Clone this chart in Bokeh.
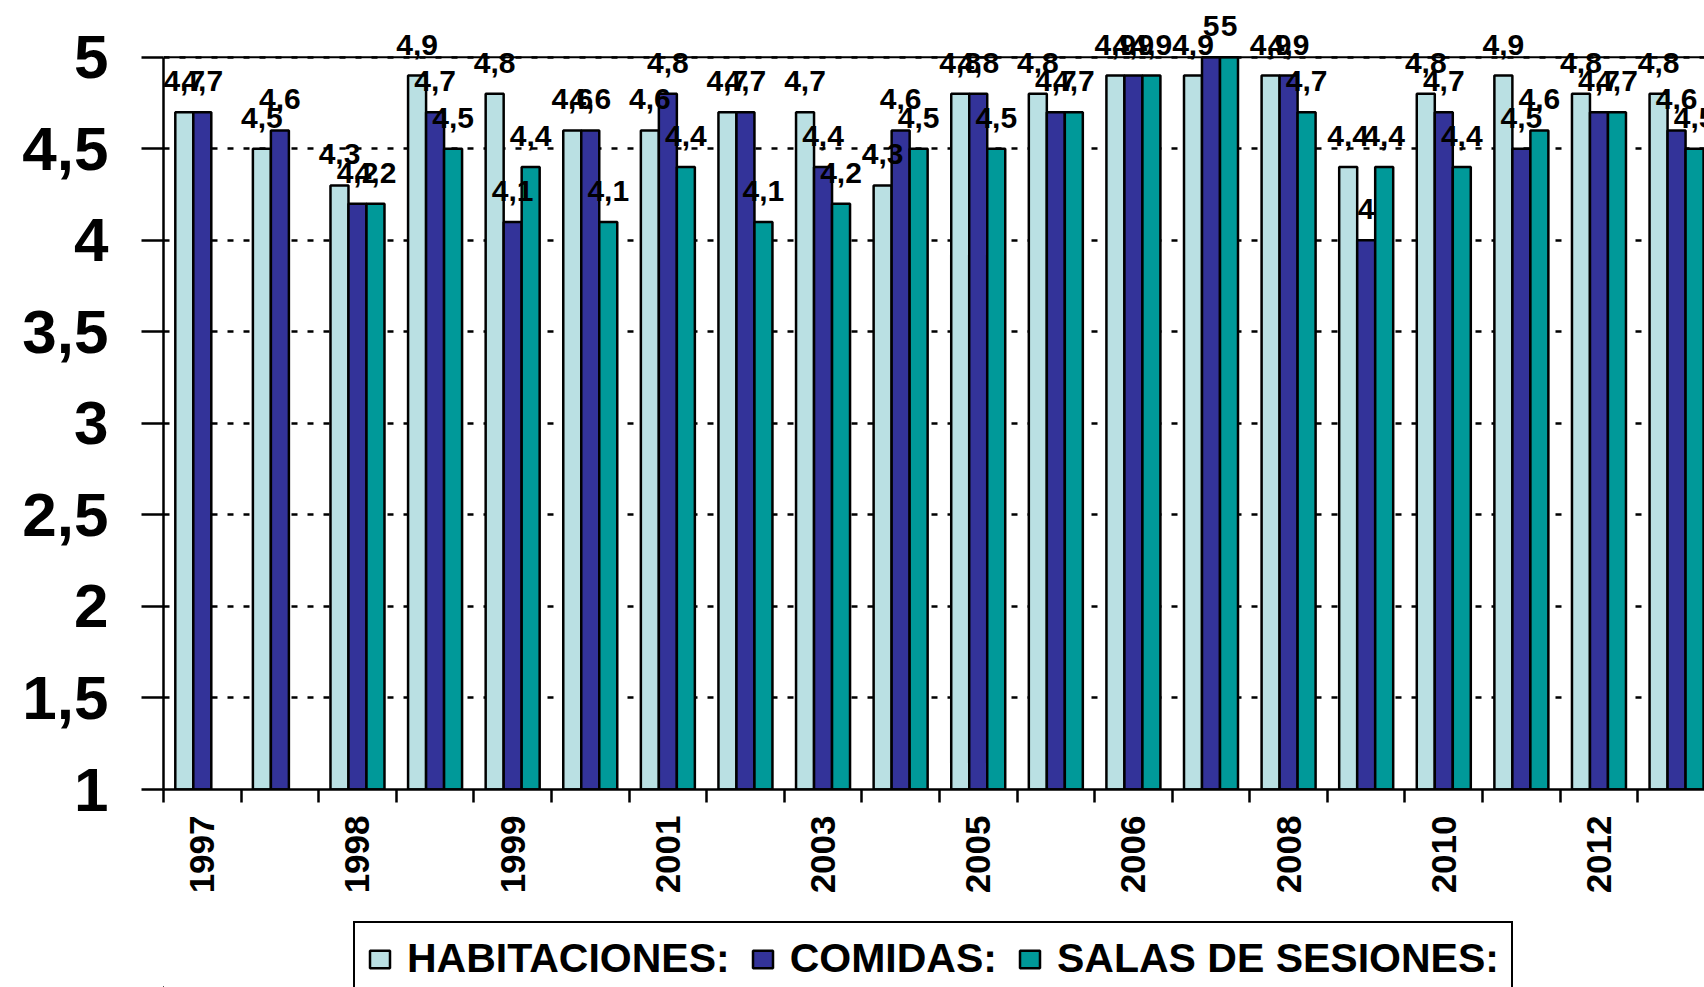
import math
from bokeh.plotting import figure
from bokeh.layouts import column
from bokeh.models import (ColumnDataSource, Range1d, FixedTicker, LabelSet, Legend,
                          LegendItem, Span, CustomJSTickFormatter)
from bokeh.core.properties import value
from bokeh.embed import file_html
from bokeh.resources import INLINE

# ---- data ----
year_labels = ["1997", "", "1998", "", "1999", "", "2001", "", "2003", "",
               "2005", "", "2006", "", "2008", "", "2010", "", "2012", ""]
habitaciones = [4.7, 4.5, 4.3, 4.9, 4.8, 4.6, 4.6, 4.7, 4.7, 4.3,
                4.8, 4.8, 4.9, 4.9, 4.9, 4.4, 4.8, 4.9, 4.8, 4.8]
comidas = [4.7, 4.6, 4.2, 4.7, 4.1, 4.6, 4.8, 4.7, 4.4, 4.6,
           4.8, 4.7, 4.9, 5.0, 4.9, 4.0, 4.7, 4.5, 4.7, 4.6]
salas = [None, None, 4.2, 4.5, 4.4, 4.1, 4.4, 4.1, 4.2, 4.5,
         4.5, 4.7, 4.9, 5.0, 4.7, 4.4, 4.4, 4.6, 4.7, 4.5]
series_names = ["HABITACIONES:", "COMIDAS:", "SALAS DE SESIONES:"]
series_values = [habitaciones, comidas, salas]
colors = ["#BAE0E3", "#333399", "#009999"]
y_ticks = [1, 1.5, 2, 2.5, 3, 3.5, 4, 4.5, 5]

FONT = "Liberation Sans"
n = len(year_labels)
bar_w = 0.232
offsets = [-bar_w, 0.0, bar_w]


def fmt(v):
    return ("%g" % v).replace(".", ",")


p = figure(width=1704, height=900,
           x_range=Range1d(-0.5, 19.36), y_range=Range1d(1, 5.31),
           output_backend="svg", toolbar_location=None,
           min_border_left=163, min_border_right=0,
           min_border_top=0, min_border_bottom=111)
p.outline_line_color = None
p.background_fill_color = "white"
p.border_fill_color = "white"

# grid
p.xgrid.visible = False
p.ygrid.ticker = FixedTicker(ticks=y_ticks[1:])
p.ygrid.grid_line_color = "black"
p.ygrid.grid_line_dash = "6 10"
p.ygrid.grid_line_width = 2.7

p.add_layout(Span(location=5, dimension="width", line_color="black", line_width=2))

renderers = []
for name, vals, off, col in zip(series_names, series_values, offsets, colors):
    xs = [i + off for i, v in enumerate(vals) if v is not None]
    ys = [v for v in vals if v is not None]
    src = ColumnDataSource(dict(x=xs, top=ys, txt=[fmt(v) for v in ys]))
    r = p.vbar(x="x", top="top", bottom=1, width=bar_w, source=src,
               fill_color=col, line_color="black", line_width=2.5)
    renderers.append((name, r, src))

for name, r, src in renderers:
    p.add_layout(LabelSet(x="x", y="top", text="txt", source=src,
                          text_align="center", text_baseline="alphabetic",
                          y_offset=21, text_font=value(FONT),
                          text_font_style="bold",
                          text_font_size="30px", text_color="black"))

# y axis
ya = p.yaxis[0]
ya.ticker = FixedTicker(ticks=y_ticks)
ya.formatter = CustomJSTickFormatter(code="return String(tick).replace('.', ',');")
ya.bounds = (1, 5)
ya.major_tick_out = 22
ya.major_tick_in = 0
ya.minor_tick_out = 0
ya.minor_tick_in = 0
ya.axis_line_width = 2.5
ya.major_tick_line_width = 2.5
ya.major_label_standoff = 33
ya.major_label_text_font = FONT
ya.major_label_text_font_style = "bold"
ya.major_label_text_font_size = "62px"
ya.major_label_text_color = "black"

# x axis
xa = p.xaxis[0]
major = [i for i in range(n) if year_labels[i]]
xa.ticker = FixedTicker(ticks=major, minor_ticks=[i - 0.5 for i in range(n)])
xa.major_label_overrides = {i: year_labels[i] for i in major}
xa.major_tick_out = 0
xa.major_tick_in = 0
xa.minor_tick_out = 13
xa.minor_tick_in = 0
xa.minor_tick_line_width = 2.5
xa.minor_tick_line_color = "black"
xa.axis_line_width = 2.5
xa.major_label_orientation = math.pi / 2
xa.major_label_standoff = 13
xa.major_label_text_font = FONT
xa.major_label_text_font_style = "bold"
xa.major_label_text_font_size = "35px"
xa.major_label_text_color = "black"

# ---- legend strip below the chart ----
q = figure(width=1704, height=87, x_range=Range1d(0, 1), y_range=Range1d(0, 1),
           output_backend="svg", toolbar_location=None,
           x_axis_type=None, y_axis_type=None,
           min_border_left=0, min_border_right=0, min_border_top=0, min_border_bottom=0)
q.outline_line_color = None
q.xgrid.visible = False
q.ygrid.visible = False
leg_items = []
for name, col in zip(series_names, colors):
    # legend swatch carrier, placed outside the visible range
    rr = q.vbar(x=[-10], top=[-10], bottom=-11, width=0.1, fill_color=col,
                line_color="black", line_width=2.5)
    leg_items.append(LegendItem(label=name, renderers=[rr]))

legend = Legend(items=leg_items, orientation="horizontal", location=(190, -9),
                glyph_width=25, glyph_height=22, label_standoff=15, spacing=20,
                padding=12, margin=0,
                label_text_font=FONT, label_text_font_style="bold",
                label_text_font_size="41px", label_text_color="black",
                border_line_color="black", border_line_width=2.5,
                border_line_alpha=1.0,
                background_fill_color="white", background_fill_alpha=1.0)
q.add_layout(legend)

layout = column(p, q, spacing=0)
open("out.html", "w").write(file_html(layout, INLINE))
